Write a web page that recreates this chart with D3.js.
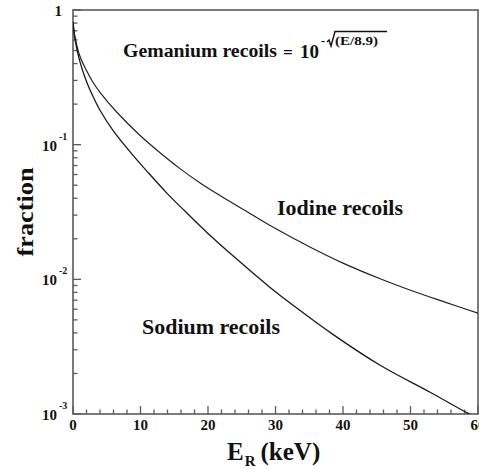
<!DOCTYPE html>
<html>
<head>
<meta charset="utf-8">
<script src="https://cdn.jsdelivr.net/npm/d3@7/dist/d3.min.js"></script>
</head>
<body style="margin:0;padding:0;background:#fff;overflow:hidden">
<svg id="chart" width="479" height="469" style="display:block"></svg>
<script>
// Recoil energy in keV and surviving fraction for each target nucleus
const iodineEnergy = [0, 0.3, 1, 2, 3, 4, 6.5, 9.9, 12.9, 15.9, 19, 22.2, 25.5, 29.2, 35.1, 40, 45.5, 50, 55, 60];
const iodineFraction = [0.813, 0.631, 0.457, 0.355, 0.288, 0.245, 0.174, 0.1175, 0.0871, 0.0661, 0.0513, 0.0407, 0.0324, 0.0251, 0.0174, 0.0132, 0.0101, 0.0083, 0.0068, 0.0056];

const sodiumEnergy = [0, 0.3, 1, 2, 3, 4, 6, 8.9, 11, 13.9, 16.5, 19.8, 24, 29.2, 33, 38.5, 45.5, 52.9, 58.4, 60];
const sodiumFraction = [0.813, 0.603, 0.417, 0.295, 0.226, 0.180, 0.126, 0.0832, 0.0631, 0.0437, 0.0324, 0.0224, 0.0145, 0.0087, 0.0062, 0.0039, 0.0023, 0.00145, 0.00102, 0.00093];

const xTickValues = [0, 10, 20, 30, 40, 50, 60];
const yDecades = [1, 0.1, 0.01, 0.001];
const yDecadeExponents = ["", "-1", "-2", "-3"];

const svg = d3.select("#chart");
const plotLeft = 73, plotRight = 478, plotTop = 10, plotBottom = 414;

const x = d3.scaleLinear().domain([0, 60]).range([plotLeft, plotRight]);
const y = d3.scaleLog().domain([1e-3, 1]).range([plotBottom, plotTop]);

const axisColor = "#5a5a5a";
const ink = "#111";

// every label: bold Times-style face
function label(sel) {
  return sel.append("text")
    .style("font-family", "'Liberation Serif'")
    .style("font-weight", "bold")
    .style("fill", ink);
}

// clip the curves to the plotting frame
svg.append("defs").append("clipPath").attr("id", "plotClip")
  .append("rect").attr("x", plotLeft).attr("y", plotTop)
  .attr("width", plotRight - plotLeft).attr("height", plotBottom - plotTop);

// frame
svg.append("rect")
  .attr("x", plotLeft).attr("y", plotTop)
  .attr("width", plotRight - plotLeft).attr("height", plotBottom - plotTop)
  .attr("fill", "none").attr("stroke", axisColor).attr("stroke-width", 1.6);

// x ticks: majors every 10 keV, minors every 2 keV, pointing inward
const xMinor = d3.range(0, 61, 2);
svg.append("g").selectAll("line").data(xMinor).join("line")
  .attr("x1", d => x(d)).attr("x2", d => x(d))
  .attr("y1", plotBottom).attr("y2", d => plotBottom - (d % 10 === 0 ? 8 : 4.5))
  .attr("stroke", axisColor).attr("stroke-width", 1.3);

const xLab = svg.append("g");
xTickValues.forEach(v => {
  label(xLab).attr("x", x(v)).attr("y", 430)
    .attr("text-anchor", "middle").style("font-size", "15px").text(v);
});

// y ticks: decades plus 2..9 minors, pointing inward
const yMinor = [];
[0.001, 0.01, 0.1].forEach(base => {
  for (let k = 1; k <= 9; k++) yMinor.push({ v: base * k, major: k === 1 });
});
yMinor.push({ v: 1, major: true });
svg.append("g").selectAll("line").data(yMinor).join("line")
  .attr("x1", plotLeft).attr("x2", d => plotLeft + (d.major ? 8 : 4.5))
  .attr("y1", d => y(d.v)).attr("y2", d => y(d.v))
  .attr("stroke", axisColor).attr("stroke-width", 1.3);

// decade labels written as 10 with a raised exponent
const yLab = svg.append("g");
yDecades.forEach((v, i) => {
  if (i === 0) {
    label(yLab).attr("x", 62).attr("y", y(v) + 6)
      .attr("text-anchor", "end").style("font-size", "15px").text("1");
  } else {
    label(yLab).attr("x", 57).attr("y", y(v) + 6)
      .attr("text-anchor", "end").style("font-size", "15px").text("10");
    label(yLab).attr("x", 59).attr("y", y(v) - 5)
      .style("font-size", "10px").text(yDecadeExponents[i]);
  }
});

// curves
const line = d3.line().x(d => x(d[0])).y(d => y(d[1])).curve(d3.curveCatmullRom.alpha(0.5));
const plot = svg.append("g").attr("clip-path", "url(#plotClip)");
plot.append("path")
  .datum(iodineEnergy.map((e, i) => [e, iodineFraction[i]]))
  .attr("d", line).attr("fill", "none").attr("stroke", "#222").attr("stroke-width", 1.2);
plot.append("path")
  .datum(sodiumEnergy.map((e, i) => [e, sodiumFraction[i]]))
  .attr("d", line).attr("fill", "none").attr("stroke", "#1a1a1a").attr("stroke-width", 1.3);

// curve labels
label(svg).attr("x", 277).attr("y", 215).style("font-size", "20px")
  .attr("textLength", 126).attr("lengthAdjust", "spacingAndGlyphs").text("Iodine recoils");
label(svg).attr("x", 142).attr("y", 334).style("font-size", "20px")
  .attr("textLength", 138).attr("lengthAdjust", "spacingAndGlyphs").text("Sodium recoils");

// germanium formula annotation
const f = svg.append("g");
label(f).attr("x", 123).attr("y", 57).style("font-size", "18px")
  .attr("textLength", 154).attr("lengthAdjust", "spacingAndGlyphs").text("Gemanium recoils");
label(f).attr("x", 283).attr("y", 58).style("font-size", "17px").text("=");
label(f).attr("x", 300).attr("y", 58).style("font-size", "19px").text("10");
label(f).attr("x", 321).attr("y", 45).style("font-size", "12px").text("-");
f.append("path").attr("d", "M327,42 L329,40 L331,46 L335,31.5 L387,31.5")
  .attr("fill", "none").attr("stroke", ink).attr("stroke-width", 1.4);
label(f).attr("x", 335).attr("y", 45).style("font-size", "11.5px")
  .attr("textLength", 43).attr("lengthAdjust", "spacingAndGlyphs").text("(E/8.9)");

// axis titles
label(svg).attr("transform", "translate(33,212) rotate(-90)")
  .attr("text-anchor", "middle").style("font-size", "24px")
  .attr("textLength", 89).attr("lengthAdjust", "spacingAndGlyphs").text("fraction");

const xt = label(svg).attr("x", 227).attr("y", 460).style("font-size", "25px");
xt.append("tspan").text("E");
xt.append("tspan").style("font-size", "15px").attr("dy", 6).attr("dx", 1).text("R");
xt.append("tspan").attr("dy", -6).attr("dx", 5).text("(keV)");
</script>
</body>
</html>
